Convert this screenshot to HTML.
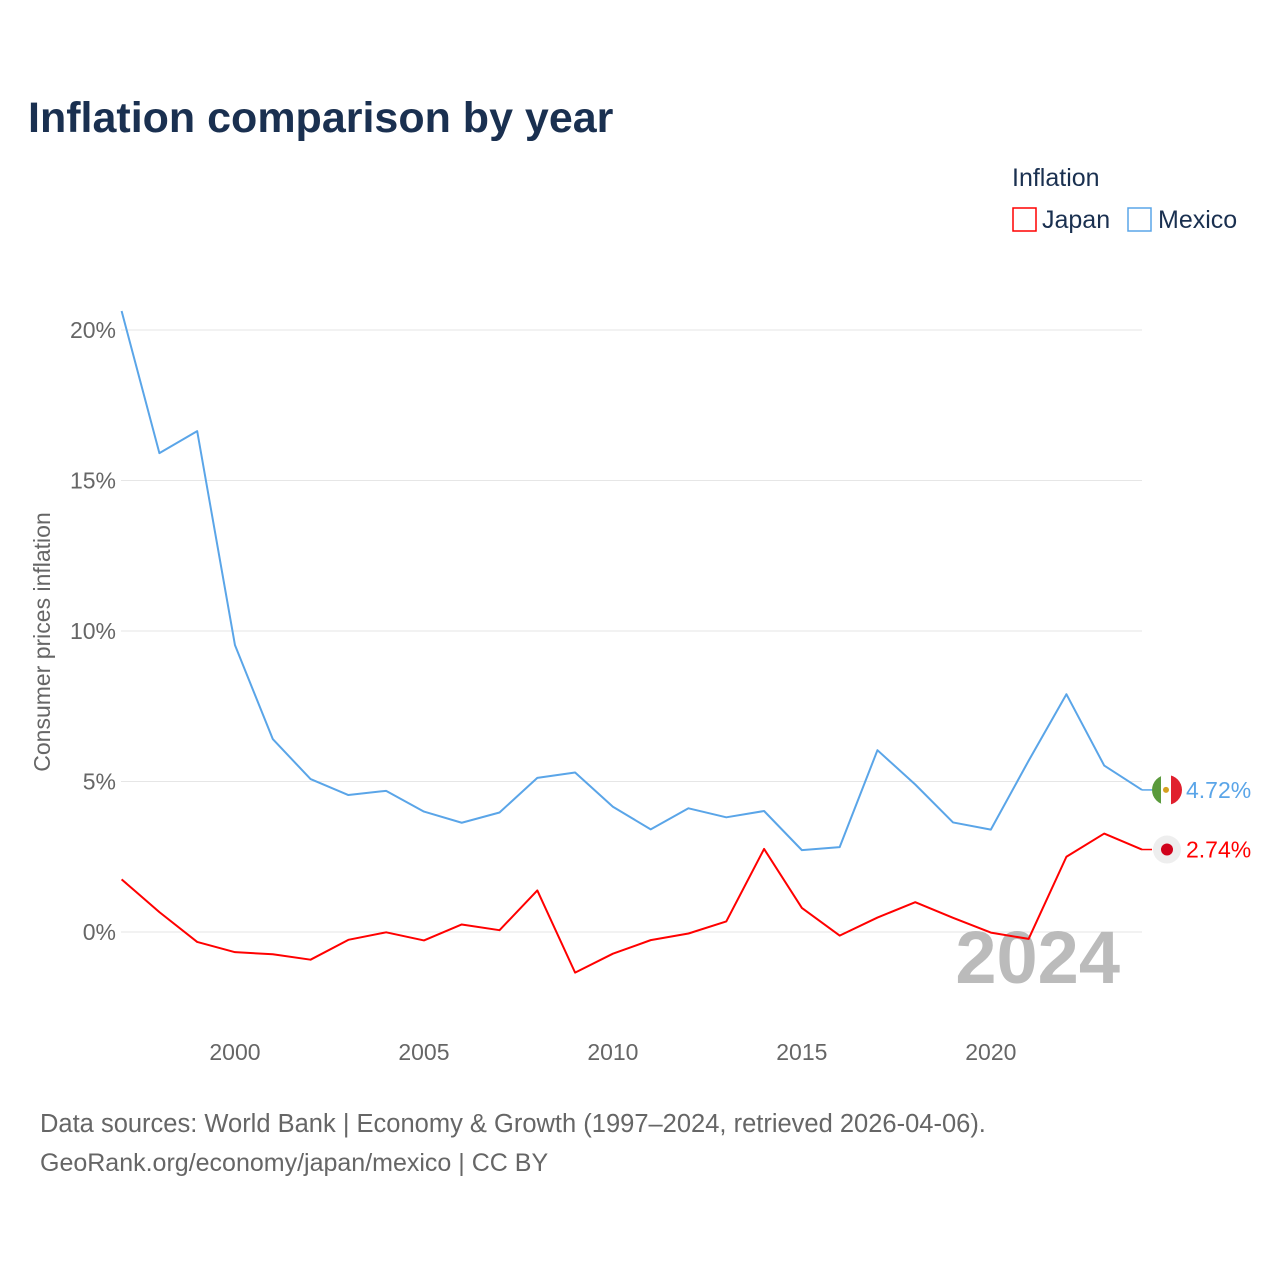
<!DOCTYPE html>
<html><head><meta charset="utf-8"><style>
html,body{margin:0;padding:0;background:#fff;}
body{width:1280px;height:1280px;overflow:hidden;font-family:"Liberation Sans",sans-serif;}
</style></head><body>
<svg id="chart" width="1280" height="1280" viewBox="0 0 1280 1280" xmlns="http://www.w3.org/2000/svg">
<defs><clipPath id="flagclip"><circle cx="1167" cy="789" r="15"/></clipPath></defs>
<text x="28" y="132" font-size="43" font-weight="bold" fill="#1a3050">Inflation comparison by year</text>
<text x="1012" y="186" font-size="25" fill="#1a3050">Inflation</text>
<g><rect x="1013" y="208" width="23" height="23" fill="none" stroke="#ff0000" stroke-width="1.5"/><text x="1042" y="228" font-size="25" fill="#1a3050">Japan</text></g>
<g><rect x="1128" y="208" width="23" height="23" fill="none" stroke="#5aa5e8" stroke-width="1.5"/><text x="1158" y="228" font-size="25" fill="#1a3050">Mexico</text></g>
<text transform="translate(50,642) rotate(-90)" text-anchor="middle" font-size="23" fill="#666">Consumer prices inflation</text>
<g id="grid"></g><g id="yticks"></g><g id="xticks"></g>
<text x="1120" y="983" text-anchor="end" font-size="74" font-weight="bold" fill="#bbb">2024</text>
<g id="series"></g>
<text x="40" y="1132" font-size="25.5" fill="#666">Data sources: World Bank | Economy &amp; Growth (1997–2024, retrieved 2026-04-06).</text>
<text x="40" y="1171" font-size="25" fill="#666">GeoRank.org/economy/japan/mexico | CC BY</text>
</svg>
<script>
const years = [1997,1998,1999,2000,2001,2002,2003,2004,2005,2006,2007,2008,2009,2010,2011,2012,2013,2014,2015,2016,2017,2018,2019,2020,2021,2022,2023,2024];
const mexico = [20.63,15.91,16.64,9.53,6.41,5.08,4.55,4.69,4.0,3.63,3.97,5.12,5.30,4.16,3.41,4.11,3.81,4.02,2.72,2.82,6.04,4.90,3.64,3.40,5.69,7.90,5.53,4.72];
const japan = [1.75,0.66,-0.33,-0.67,-0.74,-0.92,-0.26,-0.01,-0.28,0.25,0.06,1.38,-1.35,-0.72,-0.27,-0.05,0.35,2.76,0.80,-0.12,0.48,0.99,0.47,-0.02,-0.23,2.50,3.27,2.74];
const yTicks = [0,5,10,15,20];
const xTicks = [2000,2005,2010,2015,2020];
const NS="http://www.w3.org/2000/svg";
const x = v => 121.6 + (v-1997)*(1142-121.6)/27;
const y = v => 932 - v*30.1;
function mk(tag, attrs, parent){const e=document.createElementNS(NS,tag);for(const k in attrs)e.setAttribute(k,attrs[k]);parent.appendChild(e);return e;}
const grid=document.getElementById('grid'), yt=document.getElementById('yticks'), xt=document.getElementById('xticks'), ser=document.getElementById('series');
yTicks.forEach(t=>{
  const l=mk('line',{x1:121,x2:1142,y1:y(t),y2:y(t),stroke:'#e6e6e6','stroke-width':1},grid);
  
  
  const tx=mk('text',{x:116,y:y(t)+8,'text-anchor':'end','font-size':23,fill:'#666'},yt);
  tx.textContent=t+'%';
  
  
});
xTicks.forEach(t=>{
  const tx=mk('text',{x:x(t),y:1060,'text-anchor':'middle','font-size':23,fill:'#666'},xt);
  tx.textContent=t;
  
  
});
function line(vals,color,name){
  const p=mk('polyline',{points:vals.map((v,i)=>x(years[i])+','+y(v)).join(' '),fill:'none',stroke:color,'stroke-width':2,'stroke-linejoin':'round'},ser);
  
  
}
line(mexico,'#5aa5e8','mexico-line');
line(japan,'#ff0000','japan-line');
const lm=mexico[mexico.length-1], lj=japan[japan.length-1];
document.querySelector('#flagclip circle').setAttribute('cy', y(lm));
const gm=mk('g',{},ser);


mk('line',{x1:1142,x2:1152,y1:y(lm),y2:y(lm),stroke:'#5aa5e8','stroke-width':1.5},gm);
const fg=mk('g',{'clip-path':'url(#flagclip)'},gm);
mk('rect',{x:1150,y:y(lm)-16,width:12,height:32,fill:'#5a9a3c'},fg);
mk('rect',{x:1161,y:y(lm)-16,width:11,height:32,fill:'#fff'},fg);
mk('rect',{x:1171,y:y(lm)-16,width:14,height:32,fill:'#e0202e'},fg);
mk('circle',{cx:1166,cy:y(lm),r:3,fill:'#d4a020'},fg);
const tm=mk('text',{x:1186,y:y(lm)+8,'font-size':23,fill:'#5aa5e8'},gm);tm.textContent=lm.toFixed(2)+'%';
const gj=mk('g',{},ser);


mk('line',{x1:1142,x2:1152,y1:y(lj),y2:y(lj),stroke:'#ff0000','stroke-width':1.5},gj);
mk('circle',{cx:1167,cy:y(lj),r:14,fill:'#eeeeee'},gj);
mk('circle',{cx:1167,cy:y(lj),r:6,fill:'#d0021b'},gj);
const tj=mk('text',{x:1186,y:y(lj)+8,'font-size':23,fill:'#ff0000'},gj);tj.textContent=lj.toFixed(2)+'%';
</script>
</body></html>
